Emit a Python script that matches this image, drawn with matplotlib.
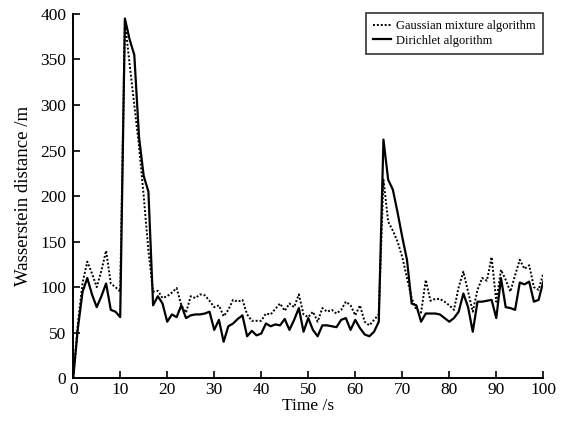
import numpy as np
import matplotlib
matplotlib.use("Agg")
from matplotlib import pyplot as plt

plt.rcParams['font.family'] = ['Liberation Serif', 'DejaVu Serif']

time_s = np.arange(0, 101)

# Gaussian mixture algorithm (dotted)
gaussian = [0, 60, 105, 128, 115, 100, 118, 140, 104, 100,
            95, 392, 345, 300, 255, 200, 140, 95, 96, 88,
            90, 94, 99, 80, 72, 90, 88, 92, 91, 85,
            78, 80, 68, 75, 86, 84, 86, 70, 63, 63,
            63, 71, 70, 76, 82, 74, 82, 78, 92, 70,
            67, 73, 62, 77, 73, 75, 71, 75, 84, 80,
            69, 80, 62, 58, 64, 70, 218, 172, 162, 150,
            133, 110, 88, 75, 72, 108, 85, 87, 87, 84,
            80, 75, 100, 117, 95, 73, 97, 110, 107, 133,
            84, 119, 108, 95, 113, 130, 120, 124, 100, 97,
            115]

# Dirichlet algorithm (solid)
dirichlet = [0, 55, 95, 110, 92, 78, 90, 104, 75, 73,
             67, 395, 372, 355, 265, 222, 205, 80, 90, 82,
             62, 70, 67, 80, 66, 69, 70, 70, 71, 73,
             53, 64, 40, 57, 60, 65, 69, 46, 52, 47,
             49, 60, 57, 59, 58, 65, 53, 64, 77, 51,
             66, 53, 46, 58, 58, 57, 56, 64, 66, 53,
             64, 55, 48, 46, 51, 62, 262, 218, 207, 182,
             155, 130, 82, 80, 62, 71, 71, 71, 70, 66,
             62, 66, 73, 93, 78, 51, 84, 84, 85, 86,
             66, 110, 78, 77, 75, 105, 103, 106, 84, 86,
             106]

x_ticks = [0, 10, 20, 30, 40, 50, 60, 70, 80, 90, 100]
y_ticks = [0, 50, 100, 150, 200, 250, 300, 350, 400]

fig = plt.figure(figsize=(5.63, 4.23), dpi=100)
ax = fig.add_axes([0.13, 0.106, 0.835, 0.861])

ax.plot(time_s, gaussian, color='black', linestyle=(0, (1, 1)), linewidth=1.4,
        label='Gaussian mixture algorithm')
ax.plot(time_s, dirichlet, color='black', linestyle='-', linewidth=1.6,
        label='Dirichlet algorithm')

ax.set_xlim(0, 100)
ax.set_ylim(0, 400)
ax.set_xticks(x_ticks)
ax.set_yticks(y_ticks)
ax.tick_params(direction='in', length=5, width=1.2, labelsize=12.5)
ax.tick_params(axis='x', pad=3)
ax.tick_params(axis='y', pad=5)

for side in ['top', 'right']:
    ax.spines[side].set_visible(False)
for side in ['left', 'bottom']:
    ax.spines[side].set_linewidth(1.4)

ax.set_xlabel('Time /s', fontsize=12.5, labelpad=0)
ax.set_ylabel('Wasserstein distance /m', fontsize=13.5, labelpad=6)

leg = ax.legend(loc='upper right', bbox_to_anchor=(0.975, 0.985),
                bbox_transform=fig.transFigure, fontsize=9,
                frameon=True, fancybox=False, edgecolor='black',
                handlelength=1.4, handletextpad=0.4,
                borderpad=0.6, labelspacing=0.2)
leg.get_frame().set_linewidth(1.2)

fig.savefig('out.png', dpi=100)
